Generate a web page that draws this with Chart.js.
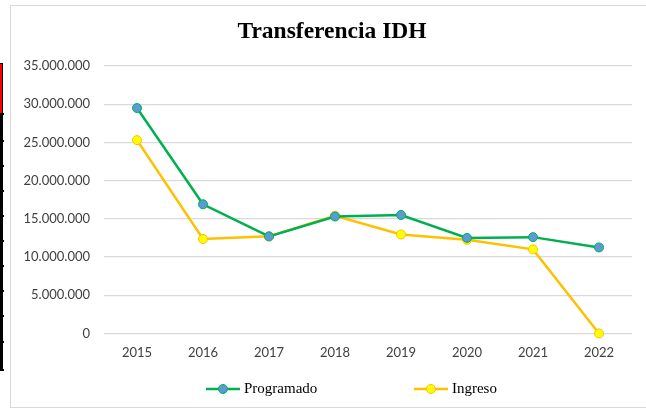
<!DOCTYPE html>
<html>
<head>
<meta charset="utf-8">
<script src="https://cdn.jsdelivr.net/npm/chart.js@4"></script>
<style>
  html, body { margin: 0; padding: 0; background: #fff; }
  #wrap { position: relative; width: 646px; height: 409px; overflow: hidden; }
  #c { position: absolute; left: 0; top: 0; }
  #frame { position: absolute; left: 10px; top: 5px; width: 650px; height: 401px;
           border: 1.5px solid #d9d9d9; pointer-events: none; }
  .blk { position: absolute; background: #000; }
  .red { position: absolute; background: #ff0000; }
</style>
</head>
<body>
<div id="wrap">
  <canvas id="c" width="646" height="409"></canvas>
  <div id="frame"></div>
  <div class="blk" style="left:0;top:63px;width:3px;height:307px"></div>
  <div class="red" style="left:0;top:64px;width:2px;height:49px"></div>
  <div id="stubs"></div>
</div>
<script>
const titleText = 'Transferencia IDH';
const years = ['2015', '2016', '2017', '2018', '2019', '2020', '2021', '2022'];
const programado = [29500000, 16900000, 12700000, 15300000, 15500000, 12500000, 12600000, 11250000];
const ingreso = [25300000, 12350000, 12700000, 15400000, 12950000, 12250000, 11000000, 0];
const yTicks = [0, 5000000, 10000000, 15000000, 20000000, 25000000, 30000000, 35000000];

// left-edge spreadsheet cell stubs
const stubYs = [113, 140, 165, 190, 215, 240, 265, 290, 315, 341, 369];
const stubs = document.getElementById('stubs');
stubYs.forEach(y => {
  const d = document.createElement('div');
  d.className = 'blk';
  d.style.cssText = 'left:0;top:' + y + 'px;width:4px;height:1.5px';
  stubs.appendChild(d);
});

const fmt = v => v === 0 ? '0' : v.toString().replace(/\B(?=(\d{3})+(?!\d))/g, '.');

const titlePlugin = {
  id: 'excelTitle',
  afterDraw(chart) {
    const ctx = chart.ctx;
    ctx.save();
    ctx.font = 'bold 23.5px "Liberation Serif", serif';
    ctx.fillStyle = '#000';
    ctx.textAlign = 'center';
    ctx.textBaseline = 'middle';
    ctx.fillText(titleText, chart.width * 0.514, 32);
    ctx.restore();
  }
};

const legendPlugin = {
  id: 'excelLegend',
  afterDraw(chart) {
    const ctx = chart.ctx;
    const centers = [0.405, 0.705];
    const yMid = 389;
    ctx.save();
    ctx.font = '15px "Liberation Serif", serif';
    ctx.textBaseline = 'middle';
    chart.data.datasets.forEach((ds, i) => {
      const tw = ctx.measureText(ds.label).width;
      const total = 34 + 4 + tw;
      const x0 = chart.width * centers[i] - total / 2;
      ctx.strokeStyle = ds.borderColor;
      ctx.lineWidth = 2.5;
      ctx.beginPath();
      ctx.moveTo(x0, yMid);
      ctx.lineTo(x0 + 34, yMid);
      ctx.stroke();
      ctx.beginPath();
      ctx.arc(x0 + 17, yMid, 4.5, 0, Math.PI * 2);
      ctx.fillStyle = ds.pointBackgroundColor;
      ctx.fill();
      ctx.lineWidth = 1;
      ctx.strokeStyle = ds.pointBorderColor;
      ctx.stroke();
      ctx.fillStyle = '#000';
      ctx.textAlign = 'left';
      ctx.fillText(ds.label, x0 + 38, yMid + 0.5);
    });
    ctx.restore();
  }
};

new Chart(document.getElementById('c'), {
  type: 'line',
  data: {
    labels: years,
    datasets: [
      {
        label: 'Programado',
        data: programado,
        borderColor: '#00b050',
        backgroundColor: '#00b050',
        borderWidth: 2.5,
        pointRadius: 4.5,
        pointBackgroundColor: '#5b9bd5',
        pointBorderColor: '#00b050',
        pointBorderWidth: 1,
        tension: 0,
        clip: false
      },
      {
        label: 'Ingreso',
        data: ingreso,
        borderColor: '#ffc000',
        backgroundColor: '#ffc000',
        borderWidth: 2.5,
        pointRadius: 4.5,
        pointBackgroundColor: '#ffff00',
        pointBorderColor: '#ffc000',
        pointBorderWidth: 1,
        tension: 0,
        clip: false
      }
    ]
  },
  options: {
    responsive: false,
    animation: false,
    layout: { padding: { left: 0, right: 14, top: 66, bottom: 36 } },
    plugins: {
      legend: { display: false },
      tooltip: { enabled: false },
      title: { display: false }
    },
    scales: {
      x: {
        offset: true,
        grid: { display: false, drawTicks: false },
        border: { display: false },
        ticks: {
          color: '#404040',
          font: { family: 'Lato', size: 13 },
          padding: 12,
          maxRotation: 0
        }
      },
      y: {
        min: 0,
        max: 35000000,
        afterBuildTicks(scale) { scale.ticks = yTicks.map(v => ({ value: v })); },
        afterFit(scale) { scale.width = 104; },
        grid: { color: '#d9d9d9', lineWidth: 1.2, drawTicks: false },
        border: { display: false },
        ticks: {
          color: '#404040',
          font: { family: 'Lato', size: 13 },
          padding: 14,
          callback: v => fmt(v)
        }
      }
    }
  },
  plugins: [titlePlugin, legendPlugin]
});
</script>
</body>
</html>
